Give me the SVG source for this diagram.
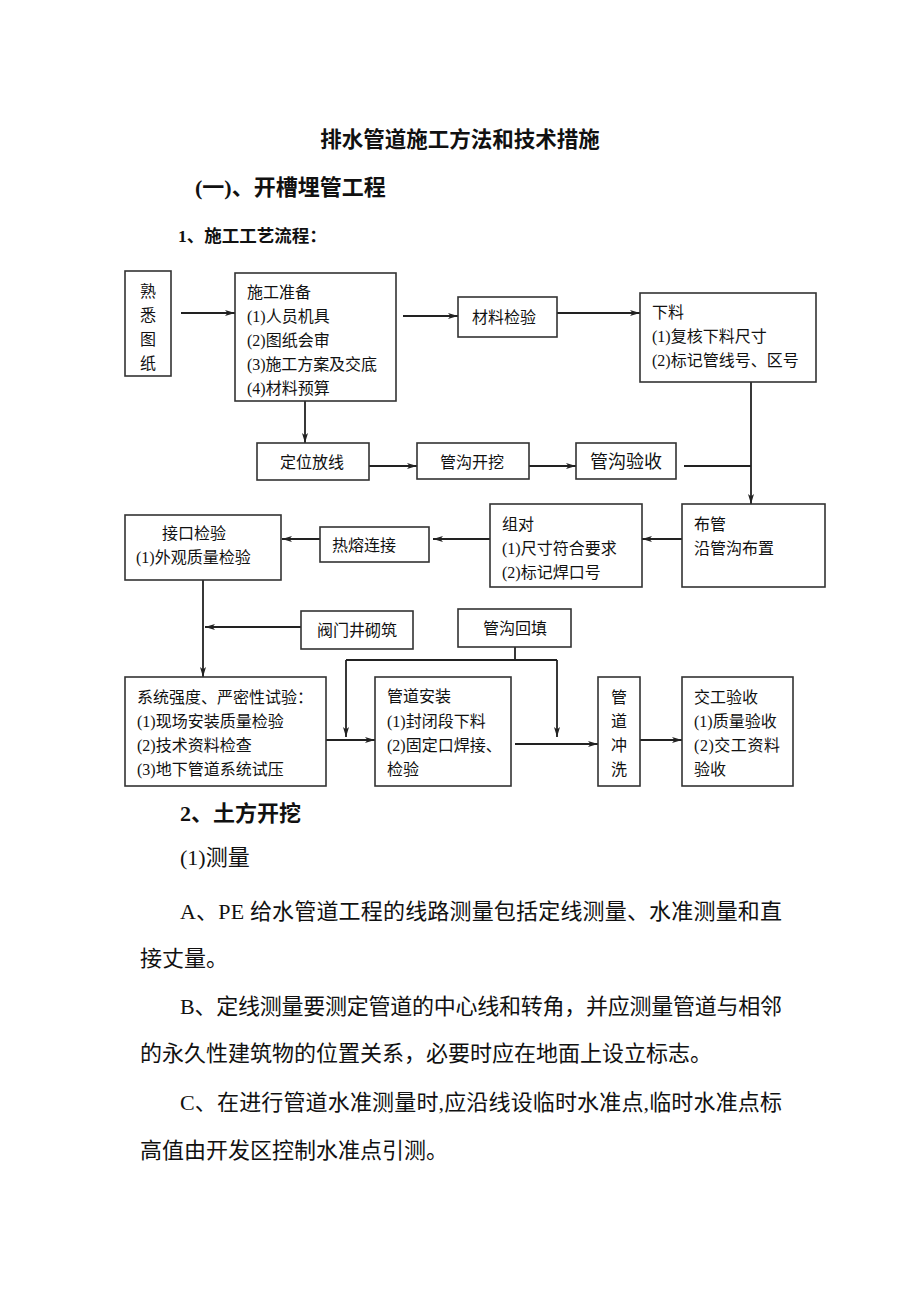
<svg xmlns="http://www.w3.org/2000/svg" width="920" height="1302" viewBox="0 0 920 1302">
<style>
.bg{fill:#fff}
.box{fill:#fff;stroke:#333;stroke-width:1.6}
.t{font-family:"Liberation Serif","Noto Sans CJK SC",serif;font-size:16px;fill:#111}
.c{text-anchor:middle}
.b{font-weight:bold}
.p{font-size:22px}
.conn{stroke:#222;stroke-width:1.8;fill:none}
</style>
<defs>
<marker id="ah" markerUnits="userSpaceOnUse" markerWidth="11" markerHeight="7" refX="10" refY="3.5" orient="auto">
<path d="M0,0.5 L10,3.5 L0,6.5 L2.5,3.5 Z" fill="#222"/>
</marker>
</defs>
<rect class="bg" x="0" y="0" width="920" height="1302"/>

<g id="headings">
<text class="t b c" x="460" y="147" style="font-size:21.5px">排水管道施工方法和技术措施</text>
<text class="t b" x="195" y="195" style="font-size:22px">(一)、开槽埋管工程</text>
<text class="t b" x="178" y="242" style="font-size:17.5px">1、施工工艺流程：</text>
</g>

<g id="connectors">
<line class="conn" x1="181" y1="313" x2="235" y2="313" marker-end="url(#ah)"/>
<line class="conn" x1="403" y1="316" x2="458" y2="316" marker-end="url(#ah)"/>
<line class="conn" x1="557" y1="313" x2="640" y2="313" marker-end="url(#ah)"/>
<line class="conn" x1="305" y1="401" x2="305" y2="443" marker-end="url(#ah)"/>
<line class="conn" x1="369" y1="466" x2="417" y2="466" marker-end="url(#ah)"/>
<line class="conn" x1="529" y1="466" x2="576" y2="466" marker-end="url(#ah)"/>
<line class="conn" x1="684" y1="466" x2="751" y2="466"/>
<line class="conn" x1="751" y1="382" x2="751" y2="504" marker-end="url(#ah)"/>
<line class="conn" x1="682" y1="539" x2="642" y2="539" marker-end="url(#ah)"/>
<line class="conn" x1="490" y1="539" x2="433" y2="539" marker-end="url(#ah)"/>
<line class="conn" x1="320" y1="539" x2="282" y2="539" marker-end="url(#ah)"/>
<line class="conn" x1="203" y1="580" x2="203" y2="677" marker-end="url(#ah)"/>
<line class="conn" x1="301" y1="627" x2="205" y2="627" marker-end="url(#ah)"/>
<polyline class="conn" points="515,647 515,660"/>
<line class="conn" x1="346" y1="660" x2="557" y2="660"/>
<line class="conn" x1="346" y1="660" x2="346" y2="737" marker-end="url(#ah)"/>
<line class="conn" x1="557" y1="660" x2="557" y2="737" marker-end="url(#ah)"/>
<line class="conn" x1="326" y1="740" x2="375" y2="740" marker-end="url(#ah)"/>
<line class="conn" x1="515" y1="744" x2="598" y2="744" marker-end="url(#ah)"/>
<line class="conn" x1="640" y1="740" x2="682" y2="740" marker-end="url(#ah)"/>
</g>

<g id="n-shuxi">
<rect class="box" x="125" y="271" width="46" height="105"/>
<text class="t c" x="148" y="297">熟</text>
<text class="t c" x="148" y="321">悉</text>
<text class="t c" x="148" y="345">图</text>
<text class="t c" x="148" y="369">纸</text>
</g>

<g id="n-zhunbei">
<rect class="box" x="235" y="273" width="161" height="128"/>
<text class="t" x="247" y="298">施工准备</text>
<text class="t" x="247" y="322">(1)人员机具</text>
<text class="t" x="247" y="346">(2)图纸会审</text>
<text class="t" x="247" y="370" textLength="130" lengthAdjust="spacing">(3)施工方案及交底</text>
<text class="t" x="247" y="394">(4)材料预算</text>
</g>

<g id="n-cailiao">
<rect class="box" x="458" y="297" width="99" height="40"/>
<text class="t" x="472" y="323">材料检验</text>
</g>

<g id="n-xialiao">
<rect class="box" x="640" y="293" width="176" height="89"/>
<text class="t" x="652" y="318">下料</text>
<text class="t" x="652" y="342">(1)复核下料尺寸</text>
<text class="t" x="652" y="366">(2)标记管线号、区号</text>
</g>

<g id="n-dingwei">
<rect class="box" x="257" y="443" width="112" height="37"/>
<text class="t c" x="312" y="468">定位放线</text>
</g>

<g id="n-kaiwa">
<rect class="box" x="417" y="443" width="112" height="36"/>
<text class="t c" x="472" y="468">管沟开挖</text>
</g>

<g id="n-yanshou">
<rect class="box" x="576" y="443" width="100" height="36"/>
<text class="t c" x="626" y="468" style="font-size:18px">管沟验收</text>
</g>

<g id="n-buguan">
<rect class="box" x="682" y="504" width="143" height="83"/>
<text class="t" x="694" y="530">布管</text>
<text class="t" x="694" y="554">沿管沟布置</text>
</g>

<g id="n-zudui">
<rect class="box" x="490" y="504" width="152" height="83"/>
<text class="t" x="502" y="530">组对</text>
<text class="t" x="502" y="554">(1)尺寸符合要求</text>
<text class="t" x="502" y="578">(2)标记焊口号</text>
</g>

<g id="n-rerong">
<rect class="box" x="320" y="527" width="109" height="35"/>
<text class="t" x="332" y="551">热熔连接</text>
</g>

<g id="n-jiekou">
<rect class="box" x="125" y="515" width="156" height="65"/>
<text class="t" x="162" y="539">接口检验</text>
<text class="t" x="136" y="563">(1)外观质量检验</text>
</g>

<g id="n-famen">
<rect class="box" x="301" y="611" width="112" height="38"/>
<text class="t c" x="357" y="636">阀门井砌筑</text>
</g>

<g id="n-huitian">
<rect class="box" x="458" y="609" width="113" height="38"/>
<text class="t c" x="515" y="634">管沟回填</text>
</g>

<g id="n-shiyan">
<rect class="box" x="125" y="677" width="201" height="109"/>
<text class="t" x="137" y="703">系统强度、严密性试验：</text>
<text class="t" x="137" y="727">(1)现场安装质量检验</text>
<text class="t" x="137" y="751">(2)技术资料检查</text>
<text class="t" x="137" y="775">(3)地下管道系统试压</text>
</g>

<g id="n-anzhuang">
<rect class="box" x="375" y="677" width="136" height="109"/>
<text class="t" x="387" y="702">管道安装</text>
<text class="t" x="387" y="727">(1)封闭段下料</text>
<text class="t" x="387" y="751">(2)固定口焊接、</text>
<text class="t" x="387" y="775">检验</text>
</g>

<g id="n-chongxi">
<rect class="box" x="598" y="677" width="42" height="109"/>
<text class="t c" x="619" y="703">管</text>
<text class="t c" x="619" y="727">道</text>
<text class="t c" x="619" y="751">冲</text>
<text class="t c" x="619" y="775">洗</text>
</g>

<g id="n-jiaogong">
<rect class="box" x="682" y="677" width="111" height="109"/>
<text class="t" x="694" y="703">交工验收</text>
<text class="t" x="694" y="727">(1)质量验收</text>
<text class="t" x="694" y="751" textLength="86" lengthAdjust="spacing">(2)交工资料</text>
<text class="t" x="694" y="775">验收</text>
</g>

<g id="body">
<text class="t p b" x="180" y="821">2、土方开挖</text>
<text class="t p" x="180" y="865">(1)测量</text>
<text class="t p" x="180" y="919" textLength="602" lengthAdjust="spacing">A、PE 给水管道工程的线路测量包括定线测量、水准测量和直</text>
<text class="t p" x="140" y="966">接丈量。</text>
<text class="t p" x="180" y="1014" textLength="602" lengthAdjust="spacing">B、定线测量要测定管道的中心线和转角，并应测量管道与相邻</text>
<text class="t p" x="140" y="1061">的永久性建筑物的位置关系，必要时应在地面上设立标志。</text>
<text class="t p" x="180" y="1110" textLength="602" lengthAdjust="spacing">C、在进行管道水准测量时,应沿线设临时水准点,临时水准点标</text>
<text class="t p" x="140" y="1158">高值由开发区控制水准点引测。</text>
</g>
</svg>
